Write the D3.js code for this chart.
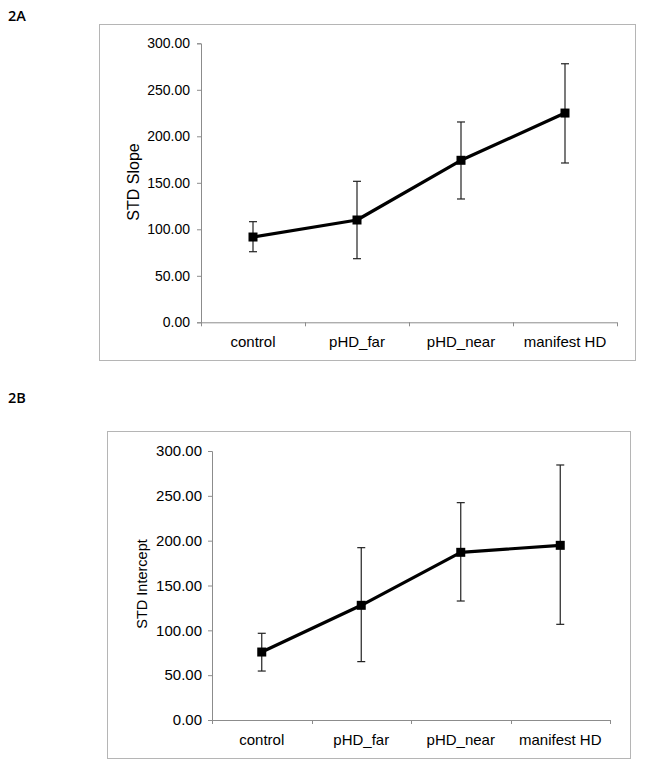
<!DOCTYPE html>
<html><head><meta charset="utf-8">
<script src="https://cdn.jsdelivr.net/npm/d3@7/dist/d3.min.js"></script>
<style>
body{margin:0;background:#fff;}
svg text{font-family:"Liberation Sans",Arial,sans-serif;fill:#000;}
</style></head><body>
<svg id="c" width="645" height="767"></svg>
<script>
const categories = ["control","pHD_far","pHD_near","manifest HD"];
const yTicks = [0,50,100,150,200,250,300];
// Panel 2A: STD Slope
const slopeMean = [91.7,110.0,174.2,225.0];
const slopeLow  = [75.9,68.4,132.6,171.3];
const slopeHigh = [108.2,151.6,215.4,278.0];
// Panel 2B: STD Intercept
const interceptMean = [75.8,127.9,187.0,194.8];
const interceptLow  = [54.6,65.1,132.7,106.7];
const interceptHigh = [96.7,192.2,242.4,284.4];

const svg = d3.select("#c");

function panel(o){
  const g = svg.append("g");
  g.append("text").attr("x",o.labX).attr("y",o.labY).text(o.label)
    .style("font-family","'Open Sans',sans-serif").style("font-weight","600").style("font-size","14.5px");
  g.append("rect").attr("x",o.frame[0]+0.5).attr("y",o.frame[1]+0.5)
    .attr("width",o.frame[2]-o.frame[0]).attr("height",o.frame[3]-o.frame[1])
    .attr("fill","none").attr("stroke","#b5b5b5").attr("stroke-width",1);
  const x = d3.scaleBand().domain(categories).range([o.x0,o.x1]);
  const y = d3.scaleLinear().domain([0,300]).range([o.y0,o.y1]);
  // y axis
  const ya = g.append("g").attr("transform",`translate(${o.x0},0)`)
    .call(d3.axisLeft(y).tickValues(yTicks).tickSize(4).tickPadding(o.yPad).tickFormat(d3.format(".2f")));
  ya.select(".domain").attr("stroke","#8c8c8c");
  ya.selectAll(".tick line").attr("stroke","#8c8c8c");
  ya.selectAll("text").style("font-size",o.tickSize+"px").attr("fill","#000");
  // x axis
  const xa = g.append("g").attr("transform",`translate(0,${o.y0})`)
    .call(d3.axisBottom(x).tickSize(0).tickPadding(14));
  xa.select(".domain").attr("stroke","#8c8c8c").attr("d",`M${o.x0},0.5H${o.x1}`);
  xa.selectAll("text").style("font-size","15px").attr("fill","#000");
  const bounds = categories.map((c,i)=>x(c)+x.bandwidth()).concat([x(categories[0])]);
  g.selectAll(".xt").data(bounds).join("line")
    .attr("x1",d=>Math.round(d)+0.5).attr("x2",d=>Math.round(d)+0.5)
    .attr("y1",o.y0).attr("y2",o.y0+4).attr("stroke","#8c8c8c");
  // y title
  g.append("text").attr("transform",`translate(${o.titleX},${o.titleY}) rotate(-90)`)
    .attr("text-anchor","middle").style("font-size",o.titleSize+"px").text(o.title);
  const cx = c=>x(c)+x.bandwidth()/2;
  // error bars
  const eb = g.selectAll(".eb").data(categories).join("g");
  eb.append("line").attr("x1",cx).attr("x2",cx)
    .attr("y1",(c,i)=>y(o.low[i])).attr("y2",(c,i)=>y(o.high[i])).attr("stroke","#222").attr("stroke-width",1.2);
  eb.append("line").attr("x1",c=>cx(c)-4).attr("x2",c=>cx(c)+4)
    .attr("y1",(c,i)=>y(o.low[i])).attr("y2",(c,i)=>y(o.low[i])).attr("stroke","#222").attr("stroke-width",1.2);
  eb.append("line").attr("x1",c=>cx(c)-4).attr("x2",c=>cx(c)+4)
    .attr("y1",(c,i)=>y(o.high[i])).attr("y2",(c,i)=>y(o.high[i])).attr("stroke","#222").attr("stroke-width",1.2);
  // line
  const line = d3.line().x((d,i)=>cx(categories[i])).y(d=>y(d));
  g.append("path").datum(o.mean).attr("d",line).attr("fill","none")
    .attr("stroke","#000").attr("stroke-width",3.2).attr("stroke-linejoin","round");
  g.selectAll(".mk").data(o.mean).join("rect")
    .attr("x",(d,i)=>cx(categories[i])-4.5).attr("y",d=>y(d)-4.5)
    .attr("width",9).attr("height",9).attr("fill","#000");
}

panel({label:"2A",labX:8,labY:21,frame:[99,24,635,360],x0:201,x1:617,y0:322.3,y1:43.3,
  tickSize:14,yPad:7,
  title:"STD Slope",titleX:139,titleY:182,titleSize:16,
  mean:slopeMean,low:slopeLow,high:slopeHigh});
panel({label:"2B",labX:8,labY:403,frame:[107,431,630,758],x0:212,x1:610,y0:720,y1:451,
  tickSize:15,yPad:6,
  title:"STD Intercept",titleX:147,titleY:584,titleSize:14.5,
  mean:interceptMean,low:interceptLow,high:interceptHigh});
</script></body></html>
